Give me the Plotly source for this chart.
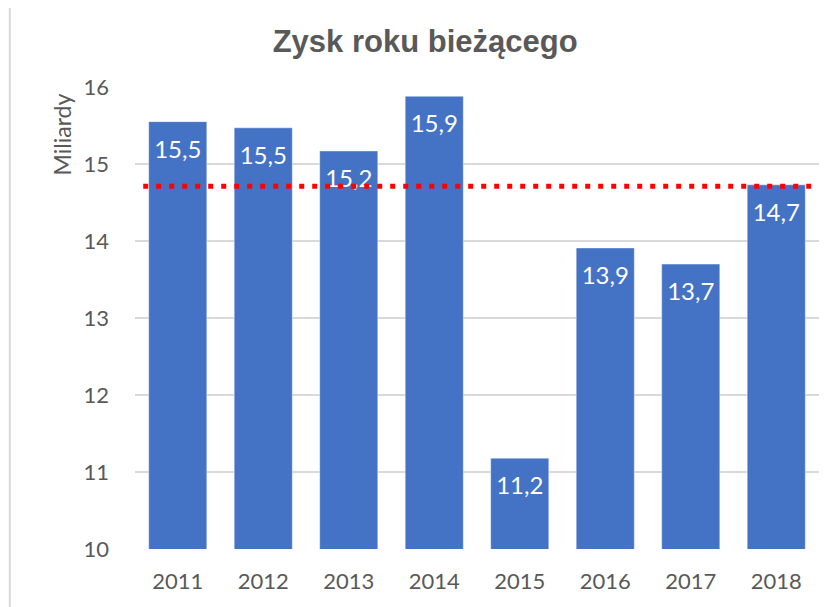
import plotly.graph_objects as go

years = ["2011", "2012", "2013", "2014", "2015", "2016", "2017", "2018"]
profit = [15.55, 15.47, 15.17, 15.88, 11.18, 13.91, 13.70, 14.73]
labels = ["15,5", "15,5", "15,2", "15,9", "11,2", "13,9", "13,7", "14,7"]
reference_level = 14.71
y_ticks = [10, 11, 12, 13, 14, 15, 16]

TITLE = "Zysk roku bieżącego"
Y_TITLE = "Miliardy"

BAR_COLOR = "#4472C4"
GRID_COLOR = "#d9d9d9"
TEXT_COLOR = "#595959"
LABEL_OFFSET = 0.39  # data units below bar top for the label

fig = go.Figure()
fig.add_trace(go.Bar(
    x=years, y=profit, base=0,
    marker=dict(color=BAR_COLOR, line=dict(color="rgba(255,255,255,0.45)", width=1)),
    hoverinfo="skip",
))
fig.add_trace(go.Scatter(
    x=years, y=[v - LABEL_OFFSET for v in profit],
    mode="text", text=labels,
    textposition="middle center",
    textfont=dict(family="Lato", size=24, color="white"),
    hoverinfo="skip",
))

# red dotted reference line
fig.add_shape(type="line", xref="paper", yref="y",
              x0=0.012, x1=0.99, y0=reference_level, y1=reference_level,
              line=dict(color="#ff0000", width=5, dash="5px,8px"), layer="above")
# outer chart border on the left
fig.add_shape(type="line", xref="paper", yref="paper",
              x0=-0.183, x1=-0.183, y0=-0.14, y1=1.19,
              line=dict(color=GRID_COLOR, width=2), layer="below")

fig.add_annotation(text=Y_TITLE, xref="paper", yref="paper",
                   x=-0.107, y=0.99, xanchor="center", yanchor="top",
                   textangle=-90, showarrow=False,
                   font=dict(family="Lato", size=23, color=TEXT_COLOR))

fig.update_layout(
    width=826, height=599,
    margin=dict(l=127, r=15, t=79, b=58),
    paper_bgcolor="white", plot_bgcolor="white",
    showlegend=False, bargap=0.32,
    title=dict(text=TITLE, x=0.505, xanchor="center", y=0.945, yanchor="middle",
               font=dict(family="Liberation Sans", size=31, color=TEXT_COLOR, weight="bold")),
    xaxis=dict(type="category", showgrid=False, showline=False, ticks="",
               tickfont=dict(family="Lato", size=22, color=TEXT_COLOR), ticklabelstandoff=17),
    yaxis=dict(range=[10, 16], tickvals=y_ticks, showgrid=True, gridcolor=GRID_COLOR,
               gridwidth=2, zeroline=False, showline=False, ticks="",
               tickfont=dict(family="Lato", size=22, color=TEXT_COLOR), ticklabelstandoff=25),
)

fig.write_html("out.html")
